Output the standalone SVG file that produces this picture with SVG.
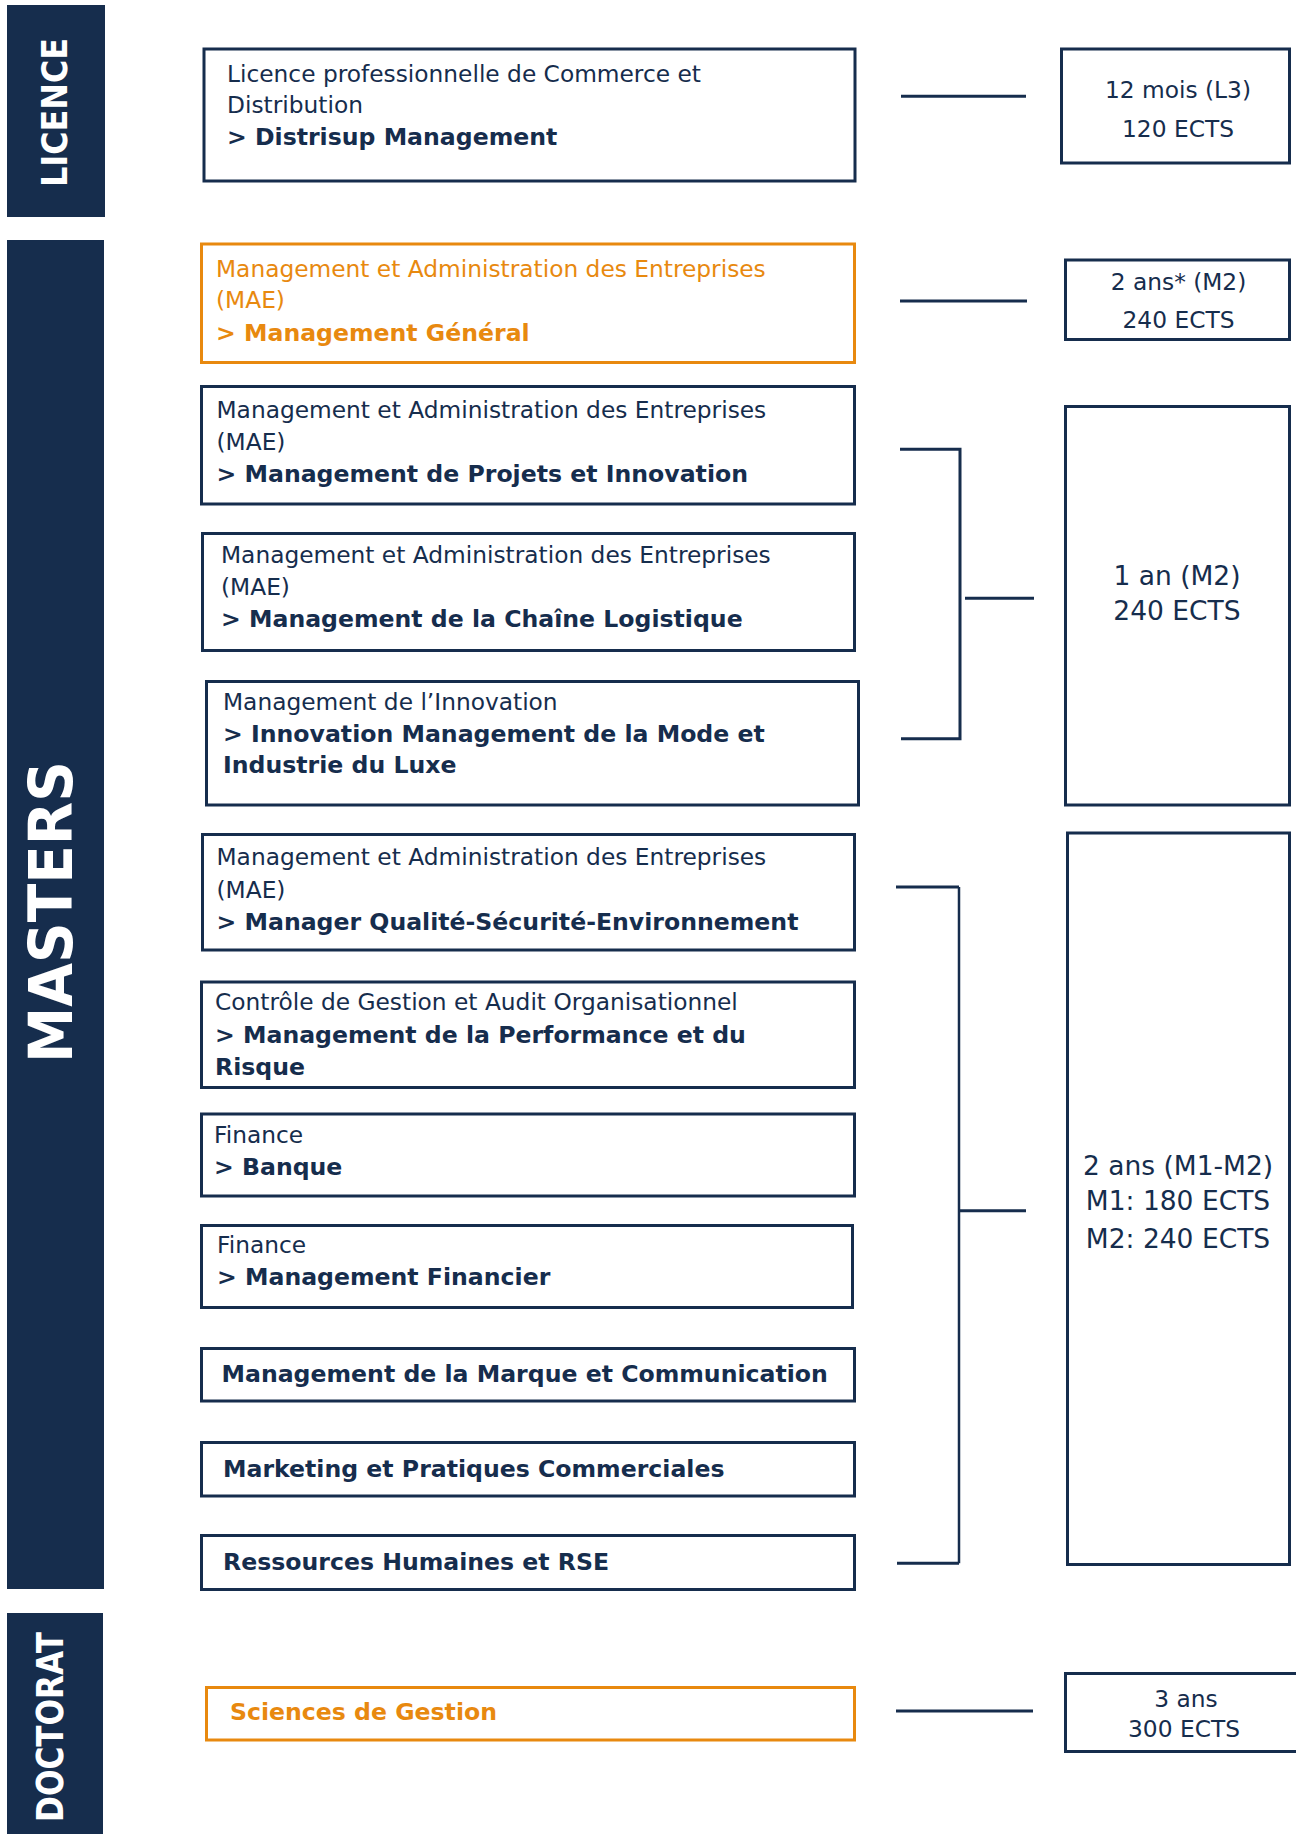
<svg xmlns="http://www.w3.org/2000/svg" width="1296" height="1834" viewBox="0 0 1296 1834">
<style>
.bar{fill:#162d4d}
.side{fill:#ffffff;font-family:"DejaVu Sans",sans-serif;font-weight:bold;text-anchor:middle}
.box{fill:#ffffff;stroke:#162d4d;stroke-width:3}
.obox{fill:#ffffff;stroke:#e8890f;stroke-width:3}
.t{font-family:"DejaVu Sans",sans-serif;font-size:23.3px;fill:#162d4d}
.o{fill:#e8890f}
.b{font-weight:bold;font-size:23.6px}
.r{text-anchor:middle}
.big{font-size:26.5px}
.ln{stroke:#162d4d;stroke-width:3;fill:none}
.vl{stroke:#162d4d;stroke-width:2.5;fill:none}
</style>
<rect width="1296" height="1834" fill="#ffffff"/>
<g id="bar-licence">
<rect class="bar" x="7" y="5" width="98" height="212"/>
<text class="side" font-size="36" textLength="149" lengthAdjust="spacingAndGlyphs" transform="translate(66.7,112.5) rotate(-90)">LICENCE</text>
</g>
<g id="bar-masters">
<rect class="bar" x="7" y="240" width="97" height="1349"/>
<text class="side" font-size="60" textLength="302" lengthAdjust="spacingAndGlyphs" transform="translate(72,912) rotate(-90)">MASTERS</text>
</g>
<g id="bar-doctorat">
<rect class="bar" x="7" y="1613" width="96" height="221"/>
<text class="side" font-size="38" textLength="190" lengthAdjust="spacingAndGlyphs" transform="translate(63.3,1727) rotate(-90)">DOCTORAT</text>
</g>
<g id="connectors">
<line class="ln" x1="901" y1="96.3" x2="1026" y2="96.3"/>
<line class="ln" x1="900" y1="301" x2="1027" y2="301"/>
<polyline class="ln" points="900,449.3 960,449.3 960,738.7 901,738.7"/>
<line class="ln" x1="965" y1="598.3" x2="1034" y2="598.3"/>
<line class="ln" x1="896" y1="887" x2="959" y2="887"/>
<line class="vl" x1="959" y1="887" x2="959" y2="1563.3"/>
<line class="ln" x1="897" y1="1563.3" x2="959" y2="1563.3"/>
<line class="ln" x1="959" y1="1210.7" x2="1026" y2="1210.7"/>
<line class="ln" x1="896" y1="1711" x2="1033" y2="1711"/>
</g>
<g id="licence-pro">
<rect class="box" x="204" y="49" width="651" height="132"/>
<text class="t" x="227" y="82">Licence professionnelle de Commerce et</text>
<text class="t" x="227" y="113">Distribution</text>
<text class="t b" x="227" y="145">&gt; Distrisup Management</text>
</g>
<g id="dur-licence">
<rect class="box" x="1061.5" y="49" width="228" height="114"/>
<text class="t r" x="1178" y="98">12 mois (L3)</text>
<text class="t r" x="1178" y="137">120 ECTS</text>
</g>
<g id="mae-general">
<rect class="obox" x="201.5" y="244" width="653" height="118.5"/>
<text class="t o" x="216" y="277">Management et Administration des Entreprises</text>
<text class="t o" x="216" y="308">(MAE)</text>
<text class="t b o" x="216" y="341">&gt; Management Général</text>
</g>
<g id="dur-mae-general">
<rect class="box" x="1065.5" y="260" width="224" height="79.5"/>
<text class="t r" x="1178.5" y="290">2 ans* (M2)</text>
<text class="t r" x="1178.5" y="328">240 ECTS</text>
</g>
<g id="mae-projets">
<rect class="box" x="201.5" y="386.5" width="653" height="117.5"/>
<text class="t" x="216.5" y="418">Management et Administration des Entreprises</text>
<text class="t" x="216.5" y="450">(MAE)</text>
<text class="t b" x="216.5" y="481.7">&gt; Management de Projets et Innovation</text>
</g>
<g id="mae-chaine">
<rect class="box" x="202.5" y="533.5" width="652" height="117"/>
<text class="t" x="221" y="563">Management et Administration des Entreprises</text>
<text class="t" x="221" y="595">(MAE)</text>
<text class="t b" x="221" y="627">&gt; Management de la Chaîne Logistique</text>
</g>
<g id="innovation-mode">
<rect class="box" x="206.5" y="681.5" width="652" height="123.5"/>
<text class="t" x="223" y="710">Management de l’Innovation</text>
<text class="t b" x="223" y="741.7">&gt; Innovation Management de la Mode et</text>
<text class="t b" x="223" y="773">Industrie du Luxe</text>
</g>
<g id="dur-1an">
<rect class="box" x="1065.5" y="406.5" width="224" height="398.5"/>
<text class="t r big" x="1177" y="585">1 an (M2)</text>
<text class="t r big" x="1177" y="620">240 ECTS</text>
</g>
<g id="mae-qse">
<rect class="box" x="202.5" y="834.5" width="652" height="115.5"/>
<text class="t" x="216.5" y="865">Management et Administration des Entreprises</text>
<text class="t" x="216.5" y="898">(MAE)</text>
<text class="t b" x="216.5" y="930">&gt; Manager Qualité-Sécurité-Environnement</text>
</g>
<g id="controle-gestion">
<rect class="box" x="201.5" y="982" width="653" height="105.5"/>
<text class="t" x="215" y="1010">Contrôle de Gestion et Audit Organisationnel</text>
<text class="t b" x="215" y="1042.7">&gt; Management de la Performance et du</text>
<text class="t b" x="215" y="1075">Risque</text>
</g>
<g id="finance-banque">
<rect class="box" x="201.5" y="1114" width="653" height="82"/>
<text class="t" x="214" y="1143">Finance</text>
<text class="t b" x="214" y="1175">&gt; Banque</text>
</g>
<g id="finance-management">
<rect class="box" x="201.5" y="1225.5" width="651" height="82"/>
<text class="t" x="217" y="1253">Finance</text>
<text class="t b" x="217" y="1285">&gt; Management Financier</text>
</g>
<g id="marque-communication">
<rect class="box" x="201.5" y="1348.5" width="653" height="52.5"/>
<text class="t b" x="221.5" y="1381.7">Management de la Marque et Communication</text>
</g>
<g id="marketing">
<rect class="box" x="201.5" y="1442.5" width="653" height="53.5"/>
<text class="t b" x="223" y="1476.7">Marketing et Pratiques Commerciales</text>
</g>
<g id="rh-rse">
<rect class="box" x="201.5" y="1535.5" width="653" height="54"/>
<text class="t b" x="223" y="1570">Ressources Humaines et RSE</text>
</g>
<g id="dur-2ans">
<rect class="box" x="1067.5" y="833" width="222" height="731.5"/>
<text class="t r big" x="1178" y="1175">2 ans (M1-M2)</text>
<text class="t r big" x="1178" y="1210">M1: 180 ECTS</text>
<text class="t r big" x="1178" y="1248">M2: 240 ECTS</text>
</g>
<g id="sciences-gestion">
<rect class="obox" x="206.5" y="1687.5" width="648" height="52.5"/>
<text class="t b o" x="230" y="1720">Sciences de Gestion</text>
</g>
<g id="dur-doctorat">
<rect class="box" x="1065.5" y="1673.5" width="240" height="78"/>
<text class="t r" x="1186" y="1707">3 ans</text>
<text class="t r" x="1184" y="1737">300 ECTS</text>
</g>
</svg>
